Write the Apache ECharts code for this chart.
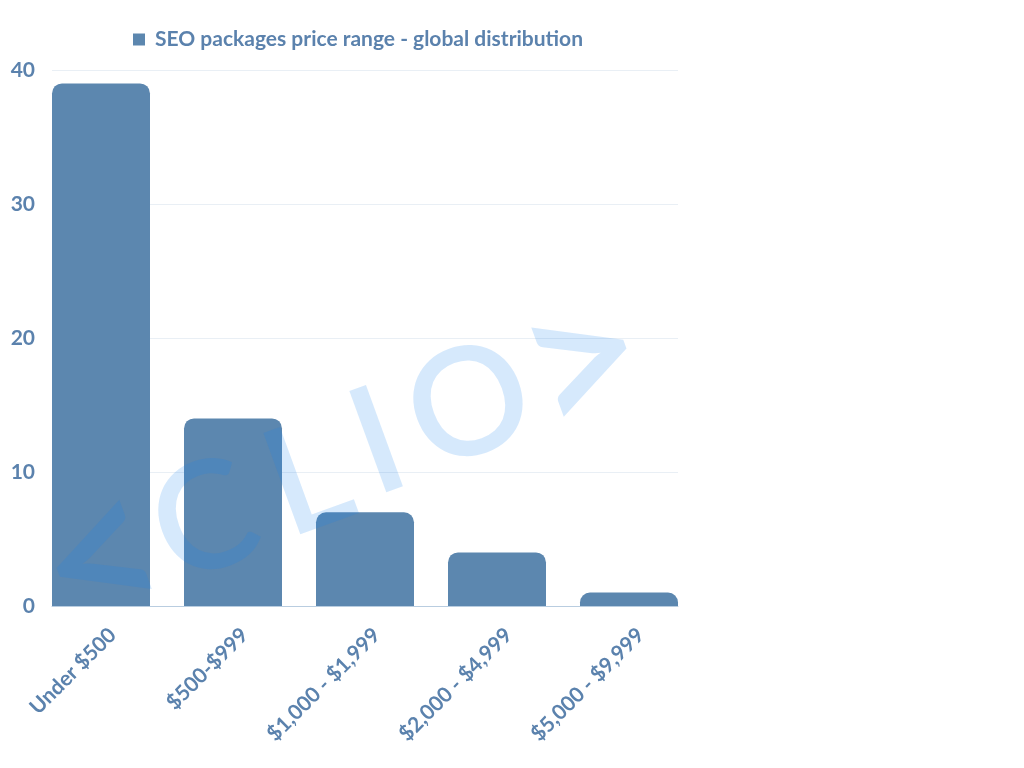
<!DOCTYPE html>
<html>
<head>
<meta charset="utf-8">
<script src="https://cdn.jsdelivr.net/npm/echarts@6/dist/echarts.min.js"></script>
<style>html,body{margin:0;padding:0;background:#fff;}#c{width:1024px;height:768px;}</style>
</head>
<body>
<div id="c"></div>
<script>
const categories = ['Under $500', '$500-$999', '$1,000 - $1,999', '$2,000 - $4,999', '$5,000 - $9,999'];
const seriesName = 'SEO packages price range - global distribution';
const values = [39, 14, 7, 4, 1];
const yTicks = { min: 0, max: 40, interval: 10 };

const textColor = '#5b82ad';
const barColor = '#5c87af';
const font = 'Lato';

// watermark glyphs (decoration only)
const wmGlyphs = ['<', 'C', 'L', 'I', 'O', '>'];
const wmCenters = [[101, 560], [205, 522], [308, 480], [378, 444], [470, 406], [584, 362]];
const wmSizes = [210, 150, 150, 150, 150, 210];

const wmRot = 20 * Math.PI / 180;
const graphic = wmGlyphs.map((g, i) => ({
  type: 'text', z: 100, silent: true,
  x: wmCenters[i][0], y: wmCenters[i][1], rotation: wmRot,
  style: { text: g, fill: 'rgba(20,130,240,0.175)', fontFamily: font, fontSize: wmSizes[i], fontWeight: 600,
    align: 'center', verticalAlign: 'middle' }
}));

const chart = echarts.init(document.getElementById('c'), null, { renderer: 'canvas' });
chart.setOption({
  animation: false,
  backgroundColor: '#ffffff',
  legend: {
    left: 133, top: 29, padding: 0,
    icon: 'rect', itemWidth: 12, itemHeight: 12,
    textStyle: { color: textColor, fontFamily: font, fontWeight: 'bold', fontSize: 21, padding: [0, 0, 0, 5] },
    data: [seriesName]
  },
  grid: [
    { left: 52, right: 346, top: 70, bottom: 162 },
    { left: 35, right: 329, top: 70, bottom: 162 }
  ],
  xAxis: [
    { gridIndex: 0, type: 'value', min: 0, max: 1, axisLine: { show: true, lineStyle: { color: '#b9cde0', width: 1 } },
      axisTick: { show: false }, axisLabel: { show: false }, splitLine: { show: false } },
    { gridIndex: 1, type: 'category', data: categories, axisLine: { show: false }, axisTick: { show: false },
      axisLabel: { rotate: 45, margin: 14, verticalAlign: 'top', padding: [6, 0, 0, 0], color: textColor, fontFamily: font, fontWeight: 'bold', fontSize: 21, interval: 0 } }
  ],
  yAxis: [
    { gridIndex: 0, type: 'value', min: yTicks.min, max: yTicks.max, interval: yTicks.interval,
      axisLine: { show: false }, axisTick: { show: false },
      axisLabel: { margin: 17, color: textColor, fontFamily: font, fontWeight: 'bold', fontSize: 21 },
      splitLine: { lineStyle: { color: '#e9eff5', width: 1 } } },
    { gridIndex: 1, type: 'value', min: yTicks.min, max: yTicks.max, interval: yTicks.interval, show: false, splitLine: { show: false } }
  ],
  series: [{
    name: seriesName, type: 'bar', xAxisIndex: 1, yAxisIndex: 1, data: values, barWidth: 98,
    itemStyle: { color: barColor, borderRadius: [10, 10, 0, 0] }
  }],
  graphic: graphic
});
</script>
</body>
</html>
